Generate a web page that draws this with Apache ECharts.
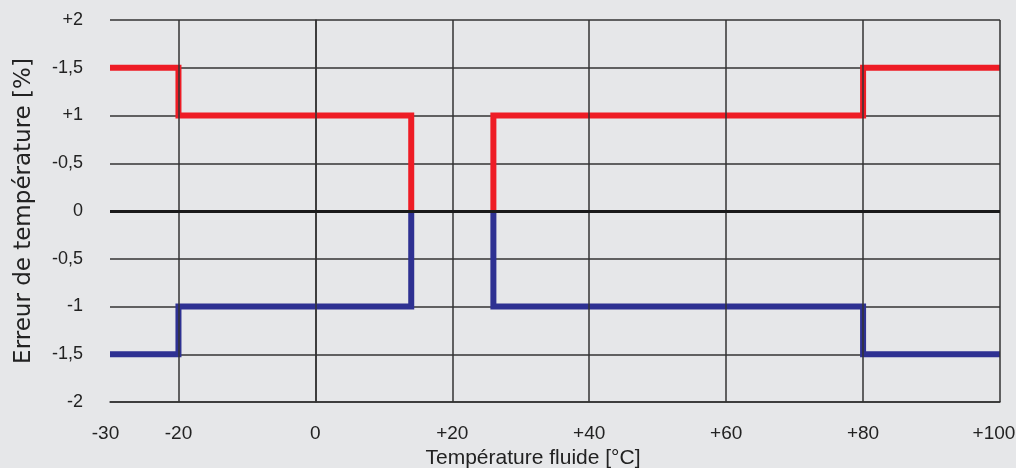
<!DOCTYPE html>
<html><head><meta charset="utf-8">
<script src="https://cdn.jsdelivr.net/npm/echarts@6/dist/echarts.min.js"></script>
<style>html,body{margin:0;padding:0;background:#e6e7e9}#c{width:1016px;height:468px}</style>
</head><body><div id="c"></div>
<script>
// Data
const redLeft = [[-30, 1.5], [-20, 1.5], [-20, 1], [14, 1], [14, 0]];
const redRight = [[26, 0], [26, 1], [80, 1], [80, 1.5], [100, 1.5]];
const blueLeft = [[-30, -1.5], [-20, -1.5], [-20, -1], [14, -1], [14, 0]];
const blueRight = [[26, 0], [26, -1], [80, -1], [80, -1.5], [100, -1.5]];
const xTickValues = [-30, -20, 0, 20, 40, 60, 80, 100];
const xTickLabels = ['-30', '-20', '0', '+20', '+40', '+60', '+80', '+100'];
const xGridValues = [-20, 0, 20, 40, 60, 80, 100];
const yTickValues = [-2, -1.5, -1, -0.5, 0, 0.5, 1, 1.5, 2];
const yTickLabels = ['-2', '-1,5', '-1', '-0,5', '0', '-0,5', '+1', '-1,5', '+2'];

const RED = '#ee1c25', BLUE = '#2e3192', GRID = '#333333';
const font = 'Liberation Sans, Arial, sans-serif';

function lineSeries(data, color) {
  return { type: 'line', data: data, symbol: 'none', silent: true, z: 3,
    lineStyle: { color: color, width: 6, join: 'miter', cap: 'butt' } };
}

const chart = echarts.init(document.getElementById('c'));
chart.setOption({
  backgroundColor: '#e6e7e9',
  animation: false,
  grid: { left: 110, right: 16, top: 20, bottom: 66, outerBoundsMode: 'none', containLabel: false },
  xAxis: {
    type: 'value', min: -30, max: 100, interval: 10,
    name: 'Température fluide [°C]', nameLocation: 'middle', nameGap: 43,
    nameTextStyle: { fontFamily: font, fontSize: 21, color: '#222', padding: [0, 44, 0, 0] },
    axisLine: { onZero: false, lineStyle: { color: GRID, width: 1.5 } },
    axisTick: { show: false },
    splitLine: { show: false },
    axisLabel: {
      margin: 22, fontFamily: font, fontSize: 19, color: '#222',
      rich: {
        first: { fontFamily: font, fontSize: 19, color: '#222', padding: [0, 9, 0, 0] },
        last: { fontFamily: font, fontSize: 19, color: '#222', padding: [0, 12, 0, 0] }
      },
      formatter: v => {
        const i = xTickValues.indexOf(v);
        if (i < 0) return '';
        if (i === 0) return '{first|' + xTickLabels[i] + '}';
        if (i === xTickValues.length - 1) return '{last|' + xTickLabels[i] + '}';
        return xTickLabels[i];
      }
    }
  },
  yAxis: {
    type: 'value', min: -2, max: 2, interval: 0.5,
    name: 'Erreur de température [%]', nameLocation: 'middle', nameGap: 74,
    nameTextStyle: { fontFamily: 'DejaVu Sans, sans-serif', fontSize: 23, color: '#222' },
    axisLine: { lineStyle: { color: GRID, width: 1.5 } },
    axisTick: { show: false },
    splitLine: { lineStyle: { color: GRID, width: 1.5 } },
    axisLabel: {
      margin: 27, fontFamily: font, fontSize: 18, color: '#222',
      formatter: v => { const i = yTickValues.findIndex(t => Math.abs(t - v) < 1e-9); return i >= 0 ? yTickLabels[i] : ''; }
    }
  },
  series: [
    { type: 'line', data: [], silent: true, z: 1,
      markLine: { silent: true, symbol: 'none', label: { show: false },
        lineStyle: { color: GRID, width: 1.5, type: 'solid' },
        data: xGridValues.map(v => ({ xAxis: v })) } },
    lineSeries(redLeft, RED), lineSeries(redRight, RED),
    lineSeries(blueLeft, BLUE), lineSeries(blueRight, BLUE),
    { type: 'line', data: [], silent: true, z: 5,
      markLine: { silent: true, symbol: 'none', label: { show: false },
        lineStyle: { color: '#1a1a1a', width: 3, type: 'solid' },
        data: [{ yAxis: 0 }] } }
  ]
});
</script></body></html>
